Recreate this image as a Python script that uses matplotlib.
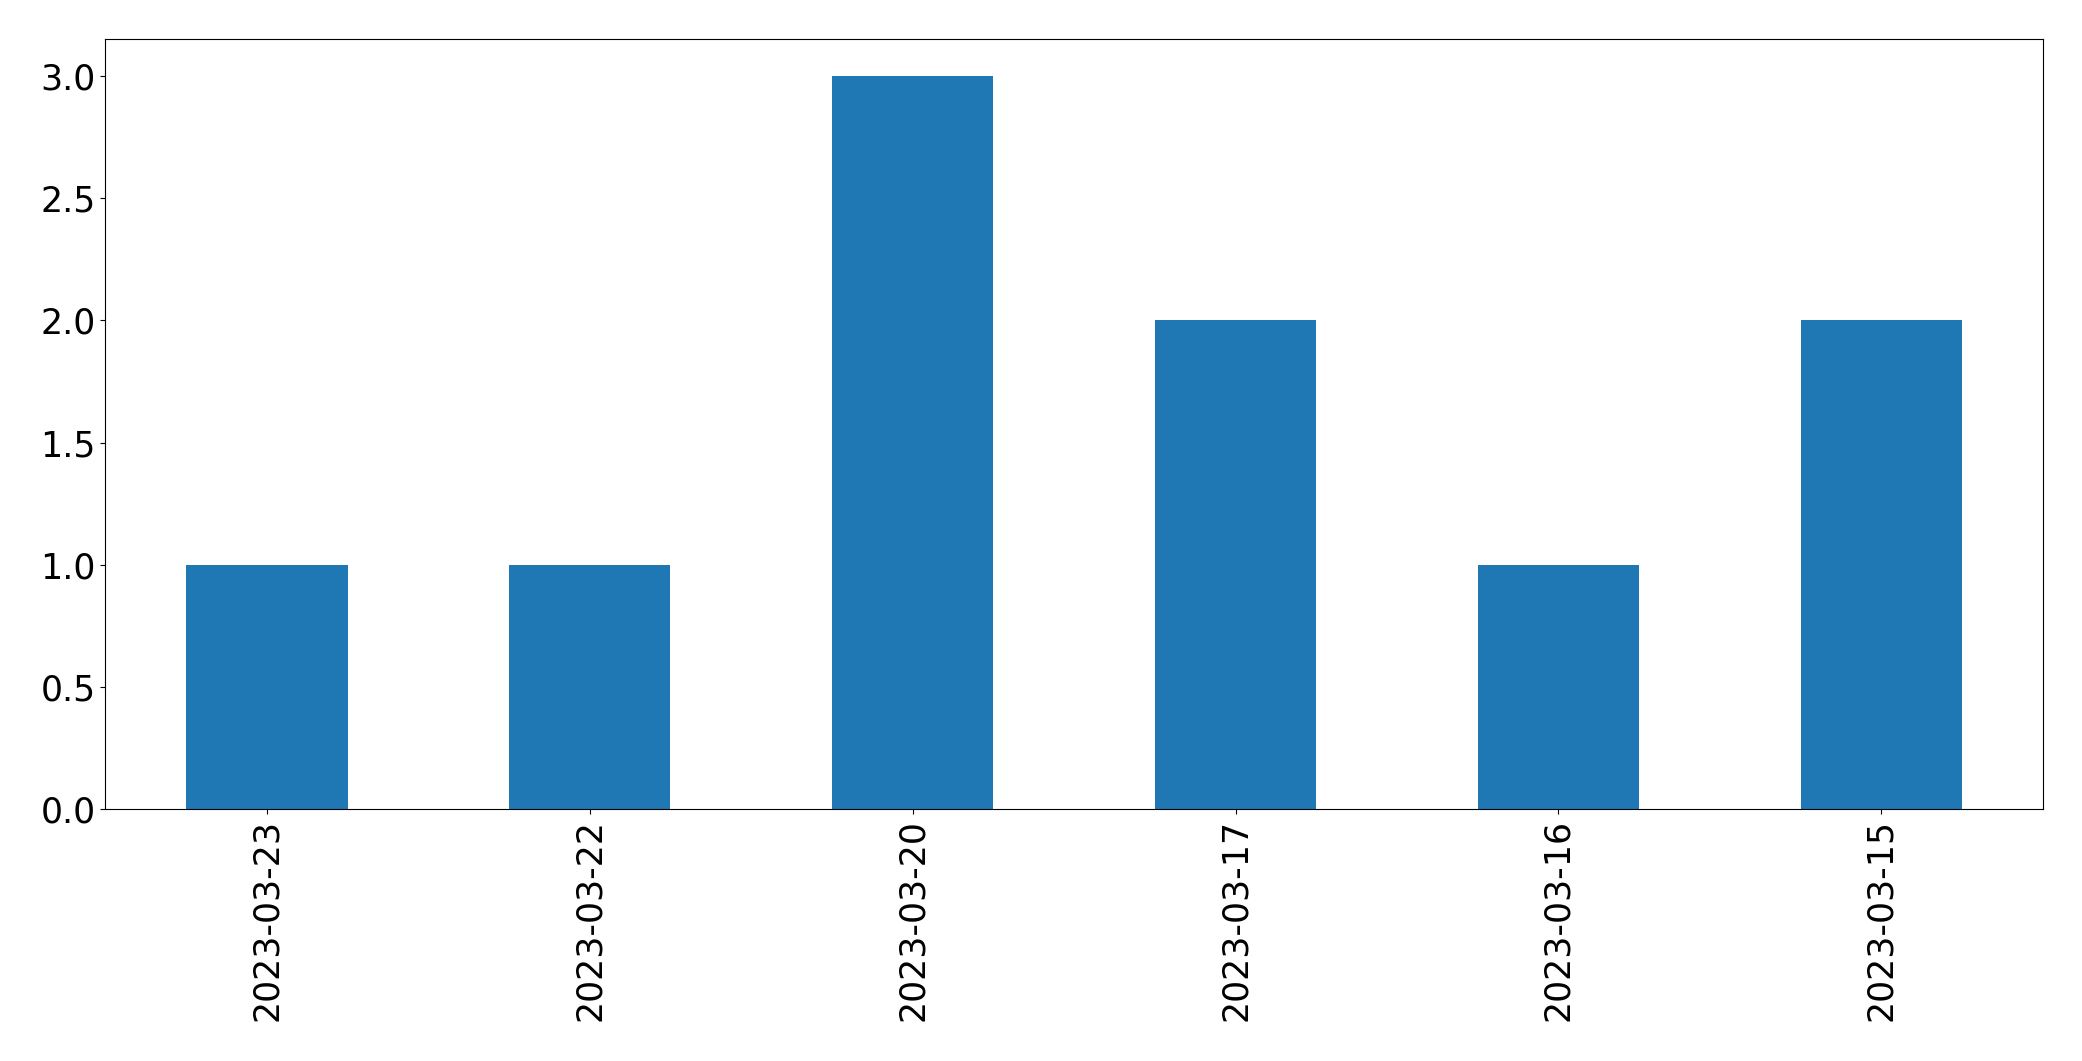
import matplotlib
matplotlib.use("Agg")
import matplotlib.pyplot as plt
import pandas as pd

dates = ["2023-03-23", "2023-03-22", "2023-03-20", "2023-03-17", "2023-03-16", "2023-03-15"]
counts = [1, 1, 3, 2, 1, 2]

s = pd.Series(counts, index=dates)

fig = plt.figure(figsize=(20.82, 10.61), dpi=100)
ax = fig.add_axes([0.0506, 0.2372, 0.9306, 0.7257])
s.plot(kind="bar", ax=ax, color="#1f77b4")
ax.tick_params(labelsize=25)
fig.savefig("out.png", dpi=100)
